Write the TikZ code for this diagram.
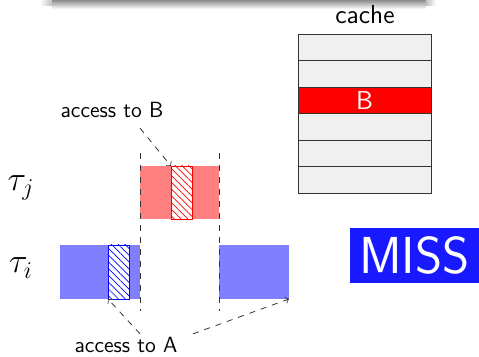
\documentclass[tikz,border=0pt]{standalone}
\usepackage{xcolor}
\usetikzlibrary{patterns,patterns.meta}

\definecolor{missblue}{rgb}{0.1,0.1,1}
\definecolor{cachegray}{rgb}{0.94,0.94,0.94}

\begin{document}
\sffamily
\begin{tikzpicture}[x=0.5pt,y=-0.5pt,
  jobj/.style={fill=red!50},
  jobi/.style={fill=blue!50},
  hatchj/.style={draw=red,preaction={fill=white},
    pattern={Lines[angle=-45,distance=2.4pt,line width=0.35pt]},pattern color=red},
  hatchi/.style={draw=blue,preaction={fill=white},
    pattern={Lines[angle=-45,distance=2.4pt,line width=0.35pt]},pattern color=blue},
  bound/.style={dashed,black!80},
  accessarrow/.style={dashed,->,black!80},
  cacheline/.style={draw=black!80,fill=cachegray},
  lbl/.style={inner sep=1pt,font=\fontsize{11}{13}\selectfont}]
\useasboundingbox (0,0) rectangle (479,357);

%shadow of the title bar
\shade[top color=black!45,bottom color=white] (52,0) rectangle (426,9);
\shade[left color=white,right color=black!25] (40,0) rectangle (52,6);
\shade[right color=white,left color=black!25] (426,0) rectangle (436,6);

%cache
\node[lbl,font=\fontsize{13}{15}\selectfont] (cache) at (365,15) {cache};
\foreach \r in {0,...,5}
  \draw[cacheline] (298,34+26.5*\r) rectangle (431,60.5+26.5*\r);
\draw[draw=black!80,fill=red] (298,87) rectangle (431,113.5);
\node[lbl,font=\fontsize{13}{15}\selectfont,text=white] (lineB) at (364.5,100) {B};

%task names
\node[lbl] (tauj) at (21,188) {\LARGE$\tau_j$};
\node[lbl] (taui) at (21,268) {\LARGE$\tau_i$};

%job of tau_j
\fill[jobj] (140,166) rectangle (219,219);
\draw[hatchj] (171,166) coordinate (hitB) rectangle (192,219);

%jobs of tau_i, preempted
\fill[jobi] (60,245) rectangle (140,299);
\fill[jobi] (219,245) rectangle (289,299) coordinate (endA);
\draw[hatchi] (108,245) rectangle (129,299);
\coordinate (hitA) at (108,299);

%preemption bounds
\draw[bound] (140,153) -- (140,311);
\draw[bound] (219,153) -- (219,311);

%accesses
\node[lbl] (accB) at (112,110) {access to B};
\node[lbl] (accA) at (126,345) {access to A};
\draw[accessarrow] ([shift={(14pt,-4pt)}]accB.south) -- (hitB);
\draw[accessarrow] ([shift={(7pt,0.5pt)}]accA.north) -- (hitA);
\draw[accessarrow] ([shift={(33.5pt,0.5pt)}]accA.north) -- (endA);

%result
\node[fill=missblue,text=white,minimum width=64.5pt,minimum height=27.5pt,inner sep=0pt]
  (miss) at (414.5,255.5) {\fontsize{26}{28}\selectfont MISS};

\end{tikzpicture}
\end{document}
